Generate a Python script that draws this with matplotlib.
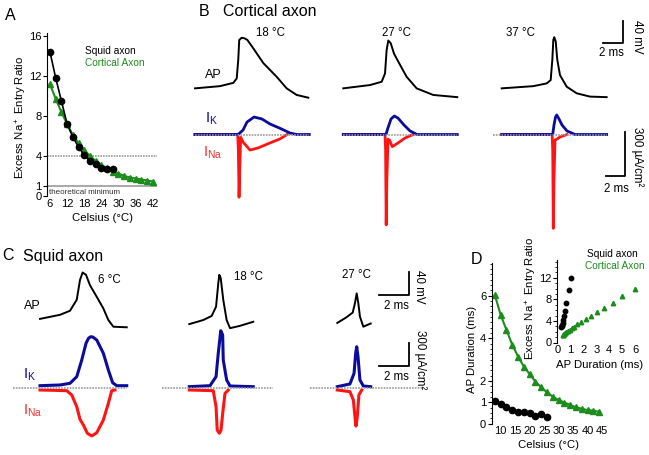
"""Temperature dependence of AP energy efficiency: squid vs cortical axon."""

import matplotlib

matplotlib.use("Agg")
import matplotlib.pyplot as plt
from matplotlib.ticker import MultipleLocator

plt.rcParams["font.family"] = ["Liberation Sans", "DejaVu Sans"]
plt.rcParams["mathtext.fontset"] = "custom"
plt.rcParams["mathtext.rm"] = "Liberation Sans"
plt.rcParams["mathtext.it"] = "Liberation Sans:italic"
plt.rcParams["mathtext.bf"] = "Liberation Sans:bold"

W, H = 649, 455
GREEN = "#1c8c1c"
BLUE = "#0b0b9c"
RED = "#ff1414"
GRAY = "#9a9a9a"
TICK_FS = 8
LABEL_FS = 8.2
LEGEND_FS = 7.3

# ---- panel A: excess Na+ entry ratio vs temperature
A_SQUID_TEMP = [6, 8, 10, 12, 14, 16, 18, 20, 22, 24, 26, 28]
A_SQUID_RATIO = [14.4, 11.8, 9.5, 7.2, 5.9, 4.9, 4.1, 3.5, 3.2, 2.8, 2.7, 2.7]
A_CORT_TEMP = [6, 8, 10, 12, 14, 16, 18, 20, 22, 24, 26, 28, 30, 32, 34, 36, 38, 40, 42]
A_CORT_RATIO = [11.2, 9.7, 8.4, 7.2, 6.1, 5.3, 4.6, 4.0, 3.5, 3.1, 2.8, 2.45,
                2.25, 2.0, 1.85, 1.75, 1.65, 1.55, 1.45]

# ---- panel D: AP duration vs temperature, inset ratio vs duration
D_SQUID_TEMP = [8, 10, 12, 14, 16, 18, 20, 22, 24, 26]
D_SQUID_DUR = [1.07, 0.92, 0.76, 0.63, 0.53, 0.53, 0.48, 0.37, 0.43, 0.29]
D_CORT_TEMP = [8, 10, 12, 14, 16, 18, 20, 22, 24, 26, 28, 30, 32, 34, 36, 38, 40, 42, 44]
D_CORT_DUR = [6.02, 5.09, 4.39, 3.69, 3.14, 2.67, 2.32, 1.96, 1.70, 1.46,
              1.26, 1.10, 0.98, 0.87, 0.76, 0.69, 0.63, 0.60, 0.55]
INSET_SQUID_DUR = [1.02, 0.85, 0.68, 0.58, 0.50, 0.45, 0.40, 0.36, 0.32, 0.28]
INSET_SQUID_RATIO = [11.9, 9.8, 7.3, 5.9, 4.9, 4.2, 3.7, 3.3, 3.1, 2.9]
INSET_CORT_DUR = [6.0, 4.97, 4.27, 3.6, 3.03, 2.57, 2.18, 1.81, 1.53, 1.3,
                  1.1, 0.95, 0.8, 0.68, 0.6, 0.52, 0.48, 0.43, 0.4]
INSET_CORT_RATIO = [10.0, 8.7, 7.4, 6.4, 5.6, 4.9, 4.3, 3.85, 3.4, 2.9,
                    2.6, 2.3, 2.1, 1.9, 1.75, 1.6, 1.5, 1.4, 1.3]

# ---- panel B: cortical axon traces (ms, mV, uA/cm2)
B_TEMPS = ["18 °C", "27 °C", "37 °C"]
B18_AP = ([0, 2.58, 3.95, 4.3, 4.46, 4.56, 4.81, 5.1, 5.4, 6.0, 7.04, 8.42, 9.45, 10.48, 11.68],
          [-58, -54, -48, -40, -6, 30, 34, 33, 30, 15, -12, -37, -58, -70, -75])
B18_IK = ([0, 4.45, 4.95, 5.36, 6.08, 6.9, 7.73, 8.76, 9.8, 10.5, 11.78],
          [0, 0, 30, 84, 118, 105, 71, 42, 10, 0, 0])
B18_INA = ([0, 4.4, 4.47, 4.54, 4.61, 4.71, 4.95, 5.67, 6.5, 7.73, 8.76, 9.48],
           [0, 0, -105, -424, -240, -19, -51, -105, -91, -57, -30, 0])
B27_AP = ([0, 2.75, 3.96, 4.3, 4.47, 4.64, 4.89, 5.23, 5.84, 6.53, 7.56, 9.27, 11.75],
          [-58, -52, -46, -31, 12, 29, 24, 5, -15, -37, -58, -70, -74])
B27_IK = ([0, 4.4, 4.6, 4.92, 5.26, 5.64, 6.26, 6.88, 7.6, 11.75],
          [0, 0, 44, 105, 125, 111, 64, 24, 0, 0])
B27_INA = ([0, 4.3, 4.36, 4.42, 4.49, 4.61, 4.76, 5.05, 5.64, 6.36, 7.19],
           [0, 0, -105, -611, -307, -32, -37, -82, -57, -24, 0])
B37_AP = ([0, 3.26, 4.64, 5.05, 5.22, 5.32, 5.42, 5.57, 5.73, 6.01, 6.7, 7.73, 9.1, 10.82],
          [-58, -54, -49, -43, -6, 30, 35, 27, -6, -34, -55, -67, -73, -74])
B37_IK = ([0, 5.26, 5.39, 5.55, 5.67, 5.86, 6.22, 6.73, 7.56, 10.82],
          [0, 0, 64, 118, 132, 111, 64, 24, 0, 0])
B37_INA = ([0, 5.2, 5.26, 5.32, 5.39, 5.5, 5.67, 6.01, 6.73],
           [0, 0, -105, -634, -307, -37, -32, -17, 0])
B_ZERO = [(0, 11.78), (0, 11.75), (-0.93, 10.82)]

# ---- panel C: squid axon traces
C_TEMPS = ["6 °C", "18 °C", "27 °C"]
C6_AP = ([0, 1.36, 2.04, 2.5, 2.72, 2.9, 3.13, 3.4, 3.86, 4.31, 4.65, 4.99, 5.9],
         [-61, -54, -47, -28, 6, 19, 15, -3, -23, -43, -63, -74.5, -75.5])
C6_IK = ([0, 1.36, 2.04, 2.5, 2.84, 3.13, 3.3, 3.45, 3.6, 3.86, 4.31, 4.65, 4.94, 5.22, 5.9],
         [34, 43, 65, 151, 368, 584, 650, 670, 665, 627, 455, 238, 73, 34, 34])
C6_INA = ([0, 1.82, 2.16, 2.5, 2.72, 2.95, 3.22, 3.52, 3.86, 4.31, 4.65, 4.88, 5.1],
          [-22, -31, -87, -239, -403, -477, -584, -619, -577, -412, -195, -31, -22])
C18_AP = ([0, 0.95, 1.52, 1.82, 1.97, 2.04, 2.14, 2.31, 2.54, 2.77, 3.45, 4.35],
          [-70, -63, -56, -40, 0, 15, 9, -28, -63, -77, -73, -66])
C18_IK = ([0, 1.41, 1.82, 1.97, 2.14, 2.27, 2.31, 2.54, 2.77, 4.35],
          [21, 34, 151, 455, 748, 692, 368, 108, 30, 21])
C18_INA = ([0, 1.63, 1.82, 1.9, 2.04, 2.16, 2.27, 2.43, 2.65],
           [-22, -31, -239, -542, -584, -542, -325, -65, -22])
C27_AP = ([0, 0.64, 1.05, 1.2, 1.32, 1.43, 1.54, 1.77, 2.27],
          [-68, -58, -50, -34, -17, -34, -57, -74.5, -69])
C27_IK = ([0, 0.86, 1.14, 1.25, 1.32, 1.41, 1.54, 1.77, 2.27],
          [21, 56, 195, 455, 540, 410, 108, 30, 21])
C27_INA = ([0, 0.86, 1.09, 1.2, 1.27, 1.36, 1.47, 1.66],
           [-22, -44, -152, -369, -490, -369, -87, -22])
C_ZERO = [(-1.82, 5.9), (-1.88, 5.71), (-1.86, 5.85)]


def px_rect(x0, y0, x1, y1):
    """Pixel box (top-left origin) to figure fraction rect."""
    return [x0 / W, 1 - y1 / H, (x1 - x0) / W, (y1 - y0) / H]


def ftext(fig, x, y, s, **kw):
    kw.setdefault("ha", "center")
    kw.setdefault("va", "center")
    fig.text(x / W, 1 - y / H, s, **kw)


def trace_axes(fig, origin_x, zero_y, px_x, px_y, xlim, ylim):
    """Axes whose data scale is px_x pixels per ms and px_y pixels per unit."""
    x0 = origin_x + xlim[0] * px_x
    x1 = origin_x + xlim[1] * px_x
    y0 = zero_y - ylim[1] * px_y
    y1 = zero_y - ylim[0] * px_y
    ax = fig.add_axes(px_rect(x0, y0, x1, y1))
    ax.set_xlim(*xlim)
    ax.set_ylim(*ylim)
    ax.axis("off")
    return ax


def draw_currents(ax, ik, ina, zero, lw):
    ax.plot(*ina, color=RED, lw=lw, clip_on=False)
    ax.plot(*ik, color=BLUE, lw=lw, clip_on=False)
    ax.plot(zero, [0, 0], color=GRAY, lw=1.2, ls=(0, (1, 0.7)), clip_on=False)


def style_axis(ax):
    for side in ("top", "right", "bottom"):
        ax.spines[side].set_visible(False)
    ax.spines["left"].set_linewidth(0.8)
    ax.tick_params(axis="y", labelsize=TICK_FS, length=3, width=0.8, pad=1)
    ax.tick_params(axis="x", labelsize=TICK_FS, length=0, pad=2)


def panel_a(fig):
    ax = fig.add_axes(px_rect(47, 33, 157, 196))
    ax.axhline(4, color=GRAY, lw=1.2, ls=(0, (1, 0.6)))
    ax.axhline(1, color=GRAY, lw=1.2)
    ax.plot(A_CORT_TEMP, A_CORT_RATIO, color=GREEN, lw=1.5, marker="^", ms=4.5)
    ax.plot(A_SQUID_TEMP, A_SQUID_RATIO, color="black", lw=1.2, marker="o", ms=4.5)
    ax.set_xlim(4.95, 43.5)
    ax.set_ylim(0, 16.3)
    ax.set_xticks([6, 12, 18, 24, 30, 36, 42])
    ax.set_yticks([0, 1, 4, 8, 12, 16])
    style_axis(ax)
    ax.text(5.6, 0.75, "theoretical minimum", fontsize=5.8, color="#333333", va="top")
    ftext(fig, 10, 15, "A", fontsize=11.5)
    ftext(fig, 21, 117, r"Excess Na$^+$ Entry Ratio", fontsize=LABEL_FS, rotation=90)
    ftext(fig, 103, 218, "Celsius (°C)", fontsize=LABEL_FS)
    ftext(fig, 85, 51, "Squid axon", fontsize=LEGEND_FS, ha="left")
    ftext(fig, 85, 63, "Cortical Axon", fontsize=LEGEND_FS, ha="left", color=GREEN)


def panel_b(fig):
    ftext(fig, 204, 12, "B", fontsize=11.5)
    ftext(fig, 223, 12, "Cortical axon", fontsize=11.5, ha="left")
    origins = [195, 343.3, 501.7]
    label_x = [270, 396.7, 520]
    traces = [(B18_AP, B18_IK, B18_INA), (B27_AP, B27_IK, B27_INA), (B37_AP, B37_IK, B37_INA)]
    for i, (ap, ik, ina) in enumerate(traces):
        ax_v = trace_axes(fig, origins[i], 56.45, 9.7, 0.55, (-1.2, 13.5), (-90, 70))
        ax_v.plot(*ap, color="black", lw=1.4, clip_on=False)
        ax_i = trace_axes(fig, origins[i], 134.5, 9.7, 0.148, (-1.2, 13.5), (-700, 200))
        draw_currents(ax_i, ik, ina, B_ZERO[i], 2.0)
        ftext(fig, label_x[i], 32.5, B_TEMPS[i], fontsize=8.3)
    # scale bars on the last column
    ax_v.plot([10.47, 12.47, 12.47], [25, 25, 65], color="black", lw=1.3, clip_on=False)
    ax_i.plot([10.71, 12.71, 12.71], [-280, -280, 20], color="black", lw=1.3, clip_on=False)
    ftext(fig, 637, 37, "40 mV", fontsize=8.3, rotation=-90)
    ftext(fig, 611, 53.5, "2 ms", fontsize=8.3)
    ftext(fig, 637, 157, "300 µA/cm²", fontsize=8.3, rotation=-90)
    ftext(fig, 616, 188.5, "2 ms", fontsize=8.3)
    ftext(fig, 213, 75, "AP", fontsize=9)
    ftext(fig, 211, 119, r"$\mathrm{I_K}$", fontsize=10.5, color=BLUE)
    ftext(fig, 213, 153, r"$\mathrm{I_{Na}}$", fontsize=10.5, color="#ee3030")


def panel_c(fig):
    ftext(fig, 8, 256, "C", fontsize=11.5)
    ftext(fig, 23, 256, "Squid axon", fontsize=11.5, ha="left")
    origins = [40, 189.3, 337.3]
    label_x = [109.5, 248.8, 356.7]
    label_y = [280, 277, 275]
    traces = [(C6_AP, C6_IK, C6_INA), (C18_AP, C18_IK, C18_INA), (C27_AP, C27_IK, C27_INA)]
    for i, (ap, ik, ina) in enumerate(traces):
        ax_v = trace_axes(fig, origins[i], 283.5, 14.7, 0.58, (-2.2, 6.5), (-90, 40))
        ax_v.plot(*ap, color="black", lw=1.4, clip_on=False)
        ax_i = trace_axes(fig, origins[i], 388.3, 14.7, 0.077, (-2.2, 6.5), (-700, 800))
        draw_currents(ax_i, ik, ina, C_ZERO[i], 2.2)
        ftext(fig, label_x[i], label_y[i], C_TEMPS[i], fontsize=8.3)
    ax_v.plot([2.86, 4.9, 4.9], [-19.8, -19.8, 20.2], color="black", lw=1.3, clip_on=False)
    ax_i.plot([2.86, 4.9, 4.9], [293, 293, 593], color="black", lw=1.3, clip_on=False)
    ftext(fig, 419, 287, "40 mV", fontsize=8.3, rotation=-90)
    ftext(fig, 396, 306, "2 ms", fontsize=8.3)
    ftext(fig, 420, 360, "300 µA/cm²", fontsize=8.3, rotation=-90)
    ftext(fig, 396, 377, "2 ms", fontsize=8.3)
    ftext(fig, 32, 306, "AP", fontsize=9)
    ftext(fig, 29, 375, r"$\mathrm{I_K}$", fontsize=10.5, color=BLUE)
    ftext(fig, 33, 411, r"$\mathrm{I_{Na}}$", fontsize=10.5, color="#ee3030")


def panel_d(fig):
    ax = fig.add_axes(px_rect(491.7, 263, 606.7, 423.5))
    ax.plot(D_CORT_TEMP, D_CORT_DUR, color=GREEN, lw=1.5, marker="^", ms=4.5)
    ax.plot(D_SQUID_TEMP, D_SQUID_DUR, color="black", lw=0, marker="o", ms=4.5)
    ax.set_xlim(6.9, 46.6)
    ax.set_ylim(0, 7.53)
    ax.set_xticks([10, 15, 20, 25, 30, 35, 40, 45])
    ax.set_yticks([0, 1, 2, 4, 6])
    ax.yaxis.set_minor_locator(MultipleLocator(0.25))
    style_axis(ax)
    ax.tick_params(axis="y", which="minor", length=1.8, width=0.6)
    ftext(fig, 477, 259, "D", fontsize=11.5)
    ftext(fig, 472, 349, "AP Duration (ms)", fontsize=LABEL_FS, rotation=90)
    ftext(fig, 549, 445, "Celsius (°C)", fontsize=LABEL_FS)

    ins = fig.add_axes(px_rect(556.7, 260, 643, 342.5))
    ins.patch.set_visible(False)
    ins.plot(INSET_CORT_DUR, INSET_CORT_RATIO, color=GREEN, lw=0, marker="^", ms=3.2)
    ins.plot(INSET_SQUID_DUR, INSET_SQUID_RATIO, color="black", lw=0, marker="o", ms=3.2)
    ins.set_xlim(-0.07, 6.62)
    ins.set_ylim(0, 15.3)
    ins.set_xticks([0, 1, 2, 3, 4, 5, 6])
    ins.set_yticks([0, 4, 8, 12])
    ins.yaxis.set_minor_locator(MultipleLocator(1))
    style_axis(ins)
    ins.tick_params(axis="y", which="minor", length=1.8, width=0.6)
    ins.tick_params(axis="y", which="major", pad=0.5)
    ftext(fig, 531, 298, r"Excess Na$^+$ Entry Ratio", fontsize=LABEL_FS, rotation=90)
    ftext(fig, 600, 365, "AP Duration (ms)", fontsize=LABEL_FS)
    ftext(fig, 587, 254, "Squid axon", fontsize=LEGEND_FS, ha="left")
    ftext(fig, 585, 266, "Cortical Axon", fontsize=LEGEND_FS, ha="left", color=GREEN)


def main():
    fig = plt.figure(figsize=(W / 100, H / 100), dpi=100)
    panel_a(fig)
    panel_b(fig)
    panel_c(fig)
    panel_d(fig)
    fig.savefig("out.png", dpi=100)


if __name__ == "__main__":
    main()
